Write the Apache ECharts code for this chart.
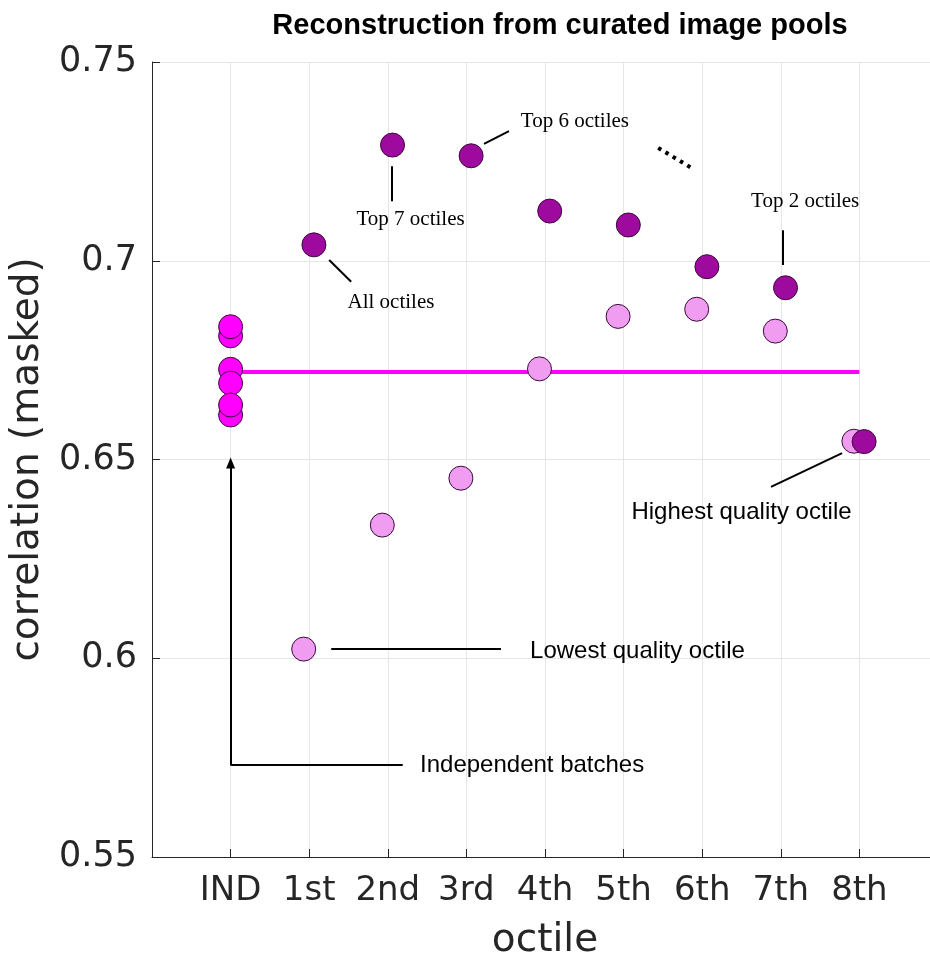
<!DOCTYPE html>
<html>
<head>
<meta charset="utf-8">
<script src="https://cdn.jsdelivr.net/npm/echarts@6/dist/echarts.min.js"></script>
<style>
html,body{margin:0;padding:0;background:#fff;}
#chart{width:930px;height:956px;}
</style>
</head>
<body>
<div id="chart"></div>
<script>
// ---- data ----
const categories = ['IND', '1st', '2nd', '3rd', '4th', '5th', '6th', '7th', '8th'];
const yTicks = [0.55, 0.6, 0.65, 0.7, 0.75];
// independent batches (IND column)
const indValues = [0.6612, 0.6727, 0.6692, 0.6637, 0.6811, 0.6834];
const indMean = 0.672;
// single octile pools (light)
const singleOctile = [0.6023, 0.6335, 0.6453, 0.6728, 0.6860, 0.6878, 0.6823, 0.6546];
// cumulative top-octile pools (dark)
const topOctiles = [0.7040, 0.7291, 0.7264, 0.7125, 0.7090, 0.6985, 0.6932, 0.6545];

// annotation segments in data space [x1, y1, x2, y2]
const segAll = [1.254, 0.7002, 1.534, 0.6947];
const segTop7 = [2.045, 0.7238, 2.045, 0.7150];
const segTop6 = [3.224, 0.7294, 3.542, 0.7326];
const segDots = [5.44, 0.7284, 5.885, 0.7231];
const segTop2 = [7.03, 0.7077, 7.03, 0.6989];
const segHighest = [6.875, 0.6431, 7.78, 0.6516];
const segLowest = [1.28, 0.6023, 3.44, 0.6023];
const segIndHoriz = [0, 0.5731, 2.19, 0.5731];
const segIndArrow = [0, 0.5731, 0, 0.6491];

// annotation labels: [text, x, y]
const serifLabels = [
  ['All octiles', 2.04, 0.6896],
  ['Top 7 octiles', 2.29, 0.7103],
  ['Top 6 octiles', 4.38, 0.7350],
  ['Top 2 octiles', 7.31, 0.7150]
];
const sansLabels = [
  ['Highest quality octile', 5.10, 0.6368],
  ['Lowest quality octile', 3.81, 0.6017],
  ['Independent batches', 2.41, 0.5731]
];

// ---- styles ----
const LIGHT_OFF = -0.07, DARK_OFF = 0.06;
const cDark = '#9e0a9e', cLight = '#f09cf0', cInd = '#ff00ff', cEdge = '#3a0a3a';

const chart = echarts.init(document.getElementById('chart'), null, {renderer: 'canvas'});

function seg(s, dotted) {
  return [{coord: [s[0], s[1]], lineStyle: dotted ? {type: [3.5, 5], width: 4, cap: 'butt'} : undefined},
          {coord: [s[2], s[3]]}];
}

const option = {
  animation: false,
  backgroundColor: '#fff',
  grid: {left: 152, top: 62, width: 786, height: 795, containLabel: false, outerBoundsMode: 'none'},
  xAxis: {
    type: 'value', min: -1, max: 9, interval: 1,
    axisLine: {show: true, onZero: false, lineStyle: {color: '#262626', width: 1}},
    axisTick: {show: true, inside: true, length: 8, lineStyle: {color: '#262626'}},
    splitLine: {show: true, lineStyle: {color: '#e6e6e6', width: 1}},
    axisLabel: {
      fontSize: 34, fontFamily: 'DejaVu Sans', color: '#262626', margin: 17,
      formatter: v => (v >= 0 && v < categories.length) ? categories[v] : ''
    },
    name: 'octile', nameLocation: 'middle', nameGap: 64,
    nameTextStyle: {fontSize: 39, fontFamily: 'DejaVu Sans', color: '#262626'}
  },
  yAxis: {
    type: 'value', min: yTicks[0], max: yTicks[yTicks.length - 1], interval: 0.05,
    axisLine: {show: true, onZero: false, lineStyle: {color: '#262626', width: 1}},
    axisTick: {show: true, inside: true, length: 8, lineStyle: {color: '#262626'}},
    splitLine: {show: true, lineStyle: {color: '#e6e6e6', width: 1}},
    axisLabel: {
      fontSize: 35, fontFamily: 'DejaVu Sans', color: '#262626', margin: 15,
      formatter: v => String(Math.round(v * 100) / 100)
    },
    name: 'correlation (masked)', nameLocation: 'middle', nameRotate: 90, nameGap: 105,
    nameTextStyle: {fontSize: 39, fontFamily: 'DejaVu Sans', color: '#262626'}
  },
  series: [
    {
      type: 'line', z: 2, symbol: 'none', silent: true,
      data: [[0, indMean], [categories.length - 1, indMean]],
      lineStyle: {color: cInd, width: 4}
    },
    {
      type: 'line', z: 1, symbol: 'none', silent: true, data: [],
      markLine: {
        silent: true, symbol: ['none', 'none'], label: {show: false},
        lineStyle: {color: '#000', width: 2, type: 'solid'},
        data: [seg(segAll), seg(segTop7), seg(segTop6), seg(segDots, true), seg(segTop2),
               seg(segHighest), seg(segLowest), seg(segIndHoriz)]
      }
    },
    {
      type: 'line', z: 1, symbol: 'none', silent: true, data: [],
      markLine: {
        silent: true, symbol: ['none', 'triangle'], symbolSize: [9, 11], label: {show: false},
        lineStyle: {color: '#000', width: 2, type: 'solid'},
        data: [seg(segIndArrow)]
      }
    },
    {
      type: 'scatter', z: 5, symbolSize: 24,
      data: indValues.map(v => [0, v]),
      itemStyle: {color: cInd, borderColor: cEdge, borderWidth: 1, opacity: 1}
    },
    {
      type: 'scatter', z: 5, symbolSize: 24,
      data: singleOctile.map((v, i) => [i + 1 + LIGHT_OFF, v]),
      itemStyle: {color: cLight, borderColor: cEdge, borderWidth: 1, opacity: 1}
    },
    {
      type: 'scatter', z: 6, symbolSize: 24,
      data: topOctiles.map((v, i) => [i + 1 + DARK_OFF, v]),
      itemStyle: {color: cDark, borderColor: cEdge, borderWidth: 1, opacity: 1}
    }
  ]
};
chart.setOption(option);

const px = (x, y) => chart.convertToPixel({gridIndex: 0}, [x, y]);
const graphics = [{
  type: 'text', x: 560, y: 26, z: 10,
  style: {text: 'Reconstruction from curated image pools', font: 'bold 29px "Liberation Sans"',
          fill: '#000', align: 'center', verticalAlign: 'middle'}
}];
serifLabels.forEach(([t, x, y]) => {
  const p = px(x, y);
  graphics.push({type: 'text', x: p[0], y: p[1], z: 10,
    style: {text: t, font: '21px "Liberation Serif"', fill: '#000', align: 'center', verticalAlign: 'middle'}});
});
sansLabels.forEach(([t, x, y]) => {
  const p = px(x, y);
  graphics.push({type: 'text', x: p[0], y: p[1], z: 10,
    style: {text: t, font: '24px "Liberation Sans"', fill: '#000', align: 'left', verticalAlign: 'middle'}});
});
chart.setOption({graphic: graphics});
</script>
</body>
</html>
